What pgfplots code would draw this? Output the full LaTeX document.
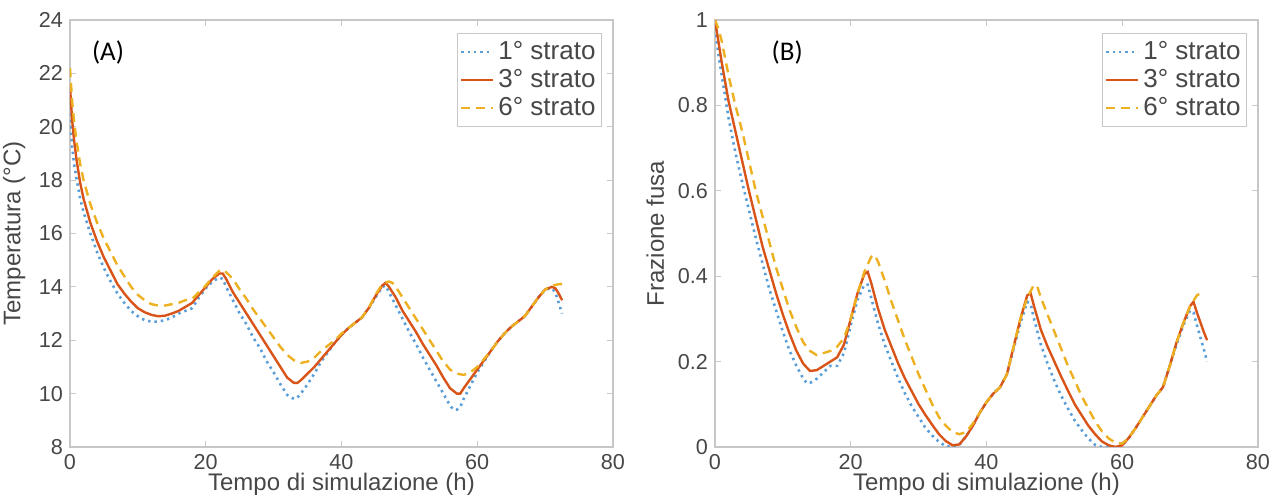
\documentclass[border=0pt]{standalone}
\usepackage{pgfplots}
\pgfplotsset{compat=1.18}
\usepackage{fontspec}
\setmainfont{Liberation Sans}
\newfontfamily\calib{Carlito}
\definecolor{mblue}{rgb}{0.35,0.62,0.85}
\definecolor{morange}{rgb}{0.85,0.33,0.10}
\definecolor{myellow}{rgb}{0.93,0.69,0.13}
\definecolor{axgray}{rgb}{0.78,0.78,0.78}
\definecolor{txtgray}{rgb}{0.28,0.28,0.28}

\pgfplotsset{
  myax/.style={
    scale only axis, width=271.5pt, height=213.5pt,
    xmin=0, xmax=80, xtick={0,20,40,60,80},
    axis line style={axgray, line width=0.8pt},
    tick style={axgray, line width=0.6pt},
    major tick length=3pt,
    tick align=inside,
    xtick pos=both, ytick pos=both,
    tick label style={font=\fontsize{10.8}{12}\selectfont, text=txtgray},
    /pgf/number format/assume math mode=true,
    label style={font=\fontsize{12}{14}\selectfont, text=txtgray},
    xlabel style={at={(axis description cs:0.5,-0.088)}, anchor=center},
    legend style={at={(0.98,0.97)}, anchor=north east, draw=axgray, line width=0.6pt,
      font=\fontsize{13}{15.5}\selectfont, text=txtgray, inner xsep=1pt, inner ysep=2pt,
      row sep=-0.5pt},
    legend cell align=left,
    legend image code/.code={\draw[#1] (0pt,0pt) -- (16pt,0pt);},
    every axis plot/.append style={line width=1.2pt},
  },
  s1/.style={mblue, dotted, line width=1.3pt},
  s3/.style={morange, solid},
  s6/.style={myellow, dash pattern=on 4.5pt off 3pt},
}

\begin{document}
\begin{tikzpicture}
\useasboundingbox (-35pt,-25pt) rectangle (603pt,223.5pt);
% ---------------- (A) ----------------
\begin{axis}[myax, at={(0pt,0pt)}, anchor=south west,
  ymin=8, ymax=24, ytick={8,10,...,24},
  xlabel={Tempo di simulazione (h)},
  ylabel={Temperatura (°C)},
  ylabel style={at={(axis description cs:-0.103,0.5)}, anchor=center},
]
\addplot[s1] coordinates {
(0,20.5)(0.3,19.3)(0.6,18.6)(1,18.0)(1.5,17.3)(2,16.8)(3,16.0)(4,15.3)(5,14.7)(6,14.2)(7,13.75)(8,13.4)(9,13.1)(10,12.9)(11,12.75)(12,12.7)(13,12.7)(14,12.75)(15,12.85)(16,13.0)(17,13.1)(18,13.2)(19,13.6)(20,13.95)(21,14.2)(22,14.35)(22.5,14.3)(23,14.0)(24,13.5)(25,13.0)(26,12.6)(27,12.1)(28,11.7)(29,11.2)(30,10.8)(31,10.35)(32,9.95)(33,9.8)(33.5,9.85)(34,10.0)(35,10.35)(36,10.75)(37,11.2)(38,11.55)(39,11.9)(40,12.2)(41,12.45)(42,12.65)(43,12.85)(44,13.2)(45,13.6)(46,14.0)(46.5,14.05)(47,13.8)(48,13.3)(49,12.8)(50,12.3)(51,11.85)(52,11.35)(53,10.9)(54,10.45)(55,10.0)(56,9.55)(56.5,9.4)(57,9.4)(57.5,9.5)(58,9.8)(59,10.3)(60,10.8)(61,11.2)(62,11.6)(63,11.95)(64,12.25)(65,12.5)(66,12.7)(67,12.9)(68,13.25)(69,13.6)(70,13.9)(71,13.95)(71.5,13.8)(72,13.4)(72.5,13.0)
};
\addlegendentry{1° strato}
\addplot[s3] coordinates {
(0,21.5)(0.3,20.3)(0.6,19.5)(1,18.7)(1.5,17.9)(2,17.3)(3,16.4)(4,15.7)(5,15.1)(6,14.6)(7,14.1)(8,13.75)(9,13.45)(10,13.2)(11,13.05)(12,12.95)(13,12.9)(14,12.92)(15,13.0)(16,13.1)(17,13.25)(18,13.4)(19,13.7)(20,14.0)(21,14.3)(22,14.5)(22.5,14.5)(23,14.3)(24,13.8)(25,13.4)(26,13.0)(27,12.6)(28,12.2)(29,11.8)(30,11.4)(31,11.0)(32,10.6)(33,10.4)(33.5,10.4)(34,10.5)(35,10.75)(36,11.0)(37,11.3)(38,11.6)(39,11.9)(40,12.2)(41,12.45)(42,12.65)(43,12.85)(44,13.2)(45,13.65)(46,14.05)(46.5,14.15)(47,14.0)(48,13.6)(49,13.1)(50,12.7)(51,12.3)(52,11.85)(53,11.45)(54,11.05)(55,10.6)(56,10.2)(57,10.0)(57.5,10.0)(58,10.2)(59,10.55)(60,10.9)(61,11.25)(62,11.6)(63,11.95)(64,12.25)(65,12.5)(66,12.7)(67,12.9)(68,13.25)(69,13.6)(70,13.9)(71,14.0)(71.5,13.95)(72,13.75)(72.5,13.5)
};
\addlegendentry{3° strato}
\addplot[s6] coordinates {
(0,22.2)(0.3,21.0)(0.6,20.2)(1,19.4)(1.5,18.6)(2,18.0)(3,17.1)(4,16.4)(5,15.8)(6,15.3)(7,14.8)(8,14.4)(9,14.0)(10,13.7)(11,13.5)(12,13.35)(13,13.3)(14,13.3)(15,13.35)(16,13.4)(17,13.5)(18,13.55)(19,13.8)(20,14.05)(21,14.35)(22,14.6)(22.5,14.65)(23,14.55)(24,14.3)(25,13.9)(26,13.55)(27,13.15)(28,12.8)(29,12.45)(30,12.1)(31,11.75)(32,11.45)(33,11.25)(34,11.15)(35,11.2)(36,11.35)(37,11.6)(38,11.8)(39,12.0)(40,12.25)(41,12.45)(42,12.65)(43,12.85)(44,13.2)(45,13.7)(46,14.1)(47,14.2)(47.5,14.15)(48,14.0)(49,13.6)(50,13.2)(51,12.8)(52,12.4)(53,12.0)(54,11.6)(55,11.2)(56,10.9)(57,10.75)(58,10.7)(59,10.8)(60,11.0)(61,11.3)(62,11.6)(63,11.95)(64,12.25)(65,12.5)(66,12.7)(67,12.9)(68,13.25)(69,13.6)(70,13.9)(71,14.05)(72,14.1)(72.5,14.1)
};
\addlegendentry{6° strato}
\node[font=\calib\fontsize{13.5}{15}\selectfont, anchor=center] at (rel axis cs:0.07,0.923) {(A)};
\end{axis}
% ---------------- (B) ----------------
\begin{axis}[myax, at={(322.5pt,0pt)}, anchor=south west,
  ymin=0, ymax=1, ytick={0,0.2,...,1},
  yticklabels={0,0.2,0.4,0.6,0.8,1},
  xlabel={Tempo di simulazione (h)},
  ylabel={Frazione fusa},
  ylabel style={at={(axis description cs:-0.11,0.5)}, anchor=center},
]
\addplot[s1] coordinates {
(0,0.98)(0.5,0.92)(1,0.87)(1.5,0.82)(2,0.77)(3,0.69)(4,0.62)(5,0.555)(6,0.49)(7,0.43)(8,0.37)(9,0.32)(10,0.27)(11,0.225)(12,0.19)(13,0.16)(13.5,0.15)(14,0.15)(15,0.16)(16,0.175)(17,0.19)(18,0.19)(19,0.22)(20,0.285)(21,0.345)(22,0.38)(22.5,0.38)(23,0.35)(24,0.29)(25,0.24)(26,0.2)(27,0.16)(28,0.125)(29,0.095)(30,0.07)(31,0.045)(32,0.027)(33,0.012)(34,0.002)(35,0.0)(36,0.005)(37,0.025)(38,0.05)(39,0.08)(40,0.105)(41,0.125)(42,0.14)(43,0.17)(44,0.23)(45,0.29)(46,0.34)(46.5,0.335)(47,0.30)(48,0.24)(49,0.195)(50,0.155)(51,0.12)(52,0.09)(53,0.062)(54,0.04)(55,0.02)(56,0.005)(57,0.0)(58,0.0)(59,0.0)(60,0.004)(61,0.022)(62,0.045)(63,0.07)(64,0.095)(65,0.12)(66,0.14)(67,0.19)(68,0.24)(69,0.285)(70,0.32)(70.5,0.315)(71,0.285)(72,0.23)(72.5,0.20)
};
\addlegendentry{1° strato}
\addplot[s3] coordinates {
(0,1.0)(0.5,0.95)(1,0.90)(1.5,0.855)(2,0.81)(3,0.74)(4,0.67)(5,0.60)(6,0.535)(7,0.47)(8,0.415)(9,0.36)(10,0.31)(11,0.265)(12,0.225)(13,0.195)(14,0.178)(15,0.18)(16,0.19)(17,0.2)(18,0.21)(19,0.24)(20,0.30)(21,0.36)(22,0.405)(22.5,0.41)(23,0.385)(24,0.325)(25,0.275)(26,0.235)(27,0.195)(28,0.16)(29,0.13)(30,0.10)(31,0.075)(32,0.052)(33,0.03)(34,0.014)(35,0.004)(36,0.006)(37,0.025)(38,0.05)(39,0.08)(40,0.105)(41,0.125)(42,0.14)(43,0.17)(44,0.235)(45,0.30)(46,0.355)(46.5,0.36)(47,0.33)(48,0.275)(49,0.235)(50,0.2)(51,0.165)(52,0.132)(53,0.1)(54,0.075)(55,0.05)(56,0.03)(57,0.013)(58,0.004)(59,0.0)(60,0.004)(61,0.022)(62,0.045)(63,0.07)(64,0.095)(65,0.12)(66,0.14)(67,0.19)(68,0.245)(69,0.29)(70,0.33)(70.5,0.34)(71,0.315)(72,0.27)(72.5,0.25)
};
\addlegendentry{3° strato}
\addplot[s6] coordinates {
(0,1.0)(0.5,0.98)(1,0.95)(1.5,0.91)(2,0.87)(3,0.80)(4,0.74)(5,0.67)(6,0.60)(7,0.54)(8,0.48)(9,0.42)(10,0.37)(11,0.32)(12,0.28)(13,0.245)(14,0.225)(15,0.215)(16,0.22)(17,0.225)(18,0.235)(19,0.255)(20,0.30)(21,0.36)(22,0.41)(23,0.445)(23.5,0.45)(24,0.435)(25,0.39)(26,0.34)(27,0.295)(28,0.25)(29,0.21)(30,0.17)(31,0.135)(32,0.10)(33,0.07)(34,0.05)(35,0.035)(36,0.03)(37,0.035)(38,0.055)(39,0.08)(40,0.105)(41,0.125)(42,0.14)(43,0.17)(44,0.235)(45,0.30)(46,0.35)(47,0.38)(47.5,0.375)(48,0.35)(49,0.31)(50,0.27)(51,0.23)(52,0.19)(53,0.155)(54,0.12)(55,0.09)(56,0.06)(57,0.037)(58,0.02)(59,0.01)(60,0.008)(61,0.022)(62,0.045)(63,0.07)(64,0.095)(65,0.12)(66,0.14)(67,0.19)(68,0.245)(69,0.29)(70,0.33)(71,0.355)(71.5,0.36)
};
\addlegendentry{6° strato}
\node[font=\calib\fontsize{13.5}{15}\selectfont, anchor=center] at (rel axis cs:0.133,0.923) {(B)};
\end{axis}
\end{tikzpicture}
\end{document}
